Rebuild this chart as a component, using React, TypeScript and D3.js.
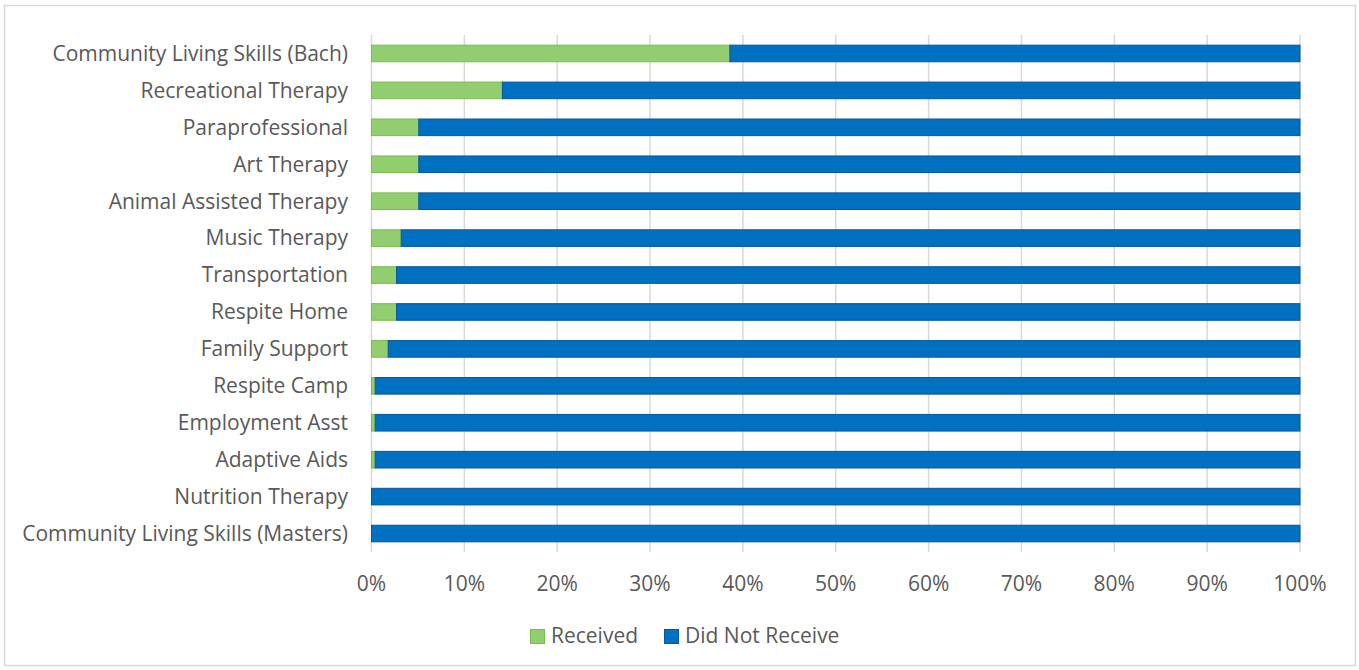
import React from "react";
import * as d3 from "d3";

const categories = [
  "Community Living Skills (Bach)",
  "Recreational Therapy",
  "Paraprofessional",
  "Art Therapy",
  "Animal Assisted Therapy",
  "Music Therapy",
  "Transportation",
  "Respite Home",
  "Family Support",
  "Respite Camp",
  "Employment Asst",
  "Adaptive Aids",
  "Nutrition Therapy",
  "Community Living Skills (Masters)",
];
const received = [38.6, 14.1, 5.1, 5.1, 5.1, 3.2, 2.7, 2.7, 1.8, 0.4, 0.4, 0.4, 0, 0];
const didNotReceive = received.map((v) => 100 - v);
const xTicks = [0, 10, 20, 30, 40, 50, 60, 70, 80, 90, 100];
const seriesNames = ["Received", "Did Not Receive"];

const W = 1359;
const H = 670;
const FONT = "'Open Sans', sans-serif";
const FS = 21;
const TEXT = "#595959";
const GREEN = "#92cd6f";
const GREEN_S = "#7bbd4c";
const BLUE = "#0070c0";
const BLUE_S = "#0b56a0";

export default function App() {
  const x = d3.scaleLinear().domain([0, 100]).range([371.5, 1300]);
  const y = d3.scaleBand<string>().domain(categories).range([35, 552]).paddingInner(0.55).paddingOuter(0.275);
  const bh = y.bandwidth();
  return (
    <svg width={W} height={H} style={{ position: "absolute", left: 0, top: 0 }}>
      <rect x={0} y={0} width={W} height={H} fill="#fff" />
      <rect x={4.5} y={5.5} width={1351} height={660} fill="none" stroke="#d9d9d9" strokeWidth={1.5} />
      {xTicks.map((t) => (
        <line key={t} x1={x(t)} x2={x(t)} y1={35} y2={552} stroke="#d9d9d9" strokeWidth={1.5} />
      ))}
      {categories.map((c, i) => {
        const yy = y(c)!;
        return (
          <g key={c}>
            {received[i] > 0 && (
              <rect x={x(0)} y={yy} width={x(received[i]) - x(0)} height={bh} fill={GREEN} stroke={GREEN_S} strokeWidth={1} />
            )}
            <rect x={x(100 - didNotReceive[i])} y={yy} width={x(100) - x(100 - didNotReceive[i])} height={bh} fill={BLUE} stroke={BLUE_S} strokeWidth={1} />
            <text x={348} y={yy + bh / 2} dy="0.35em" textAnchor="end" fontFamily={FONT} fontSize={FS} fill={TEXT}>
              {c}
            </text>
          </g>
        );
      })}
      {xTicks.map((t) => (
        <text key={"l" + t} x={x(t)} y={584} dy="0.35em" textAnchor="middle" fontFamily={FONT} fontSize={FS} fill={TEXT}>
          {t}%
        </text>
      ))}
      <g>
        <rect x={530.5} y={629.5} width={14} height={14} fill={GREEN} stroke={GREEN_S} />
        <text x={551} y={636} dy="0.35em" fontFamily={FONT} fontSize={FS} fill={TEXT}>
          {seriesNames[0]}
        </text>
        <rect x={664.5} y={629.5} width={14} height={14} fill={BLUE} stroke={BLUE_S} />
        <text x={685} y={636} dy="0.35em" fontFamily={FONT} fontSize={FS} fill={TEXT}>
          {seriesNames[1]}
        </text>
      </g>
    </svg>
  );
}
